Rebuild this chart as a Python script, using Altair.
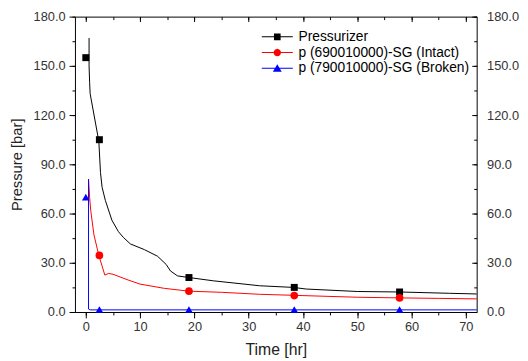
import math
import altair as alt
import pandas as pd

series = ["Pressurizer", "p (690010000)-SG (Intact)", "p (790010000)-SG (Broken)"]
colors = ["#000000", "#ff0000", "#0000ff"]

# continuous curves
prz_t = [0.6, 0.6, 0.7, 0.8, 2.4, 2.7, 3.0, 3.6, 4.8, 6.0, 6.9, 8.2, 10.8, 13.2, 14.8, 15.6, 16.9, 19.0, 23.5, 32.0, 38.2, 40.6, 50.0, 57.8, 67.0, 72.0]
prz_p = [167, 150, 140, 133, 104, 85, 76, 68, 56, 49, 45.5, 41.5, 38, 34, 29, 25, 22, 21, 19, 16, 15, 14, 12.5, 12.2, 11.4, 11]
sgi_t = [0.5, 0.7, 0.9, 1.5, 2.4, 3.0, 3.5, 4.2, 5.0, 7.8, 10.0, 14.5, 19.0, 25.0, 32.0, 40.0, 50.0, 57.8, 65.0, 72.0]
sgi_p = [81, 70, 62, 47, 34.5, 28, 22.5, 23.5, 23, 19.5, 17, 14.4, 12.7, 12, 10.8, 10, 9, 8.6, 8.3, 8]
sgb_t = [0.5, 0.5, 0.8, 72.0]
sgb_p = [81, 1.8, 1.3, 1.3]

# symbol markers
prz_mk_t = [0.0, 2.5, 19.0, 38.4, 57.8]
prz_mk_p = [155, 105, 21, 15, 12.2]
sgi_mk_t = [2.5, 19.0, 38.4, 57.8]
sgi_mk_p = [34.5, 12.7, 10, 8.6]
sgb_mk_t = [0.0, 2.5, 19.0, 38.4, 57.8]
sgb_mk_p = [70, 1.5, 1.5, 1.5, 1.5]

x_major = list(range(0, 71, 10))
x_minor = list(range(0, 71, 5))
y_major = list(range(0, 181, 30))
y_minor = list(range(0, 181, 15))

rows = []
for name, ts, ps in zip(series, [prz_t, sgi_t, sgb_t], [prz_p, sgi_p, sgb_p]):
    for i, (t, p) in enumerate(zip(ts, ps)):
        rows.append({"series": name, "t": t, "p": p, "order": i})
lines = pd.DataFrame(rows)

mrows = []
for name, ts, ps in zip(series, [prz_mk_t, sgi_mk_t, sgb_mk_t], [prz_mk_p, sgi_mk_p, sgb_mk_p]):
    for t, p in zip(ts, ps):
        mrows.append({"series": name, "t": t, "p": p})
marks = pd.DataFrame(mrows)

FONT = "Liberation Sans"
xs = alt.Scale(domain=[-2, 72], nice=False, zero=False)
ys = alt.Scale(domain=[0, 180], nice=False)
cs = alt.Scale(domain=series, range=colors)


def ax(**kw):
    base = dict(grid=False, domain=False, tickColor="black", tickWidth=1,
                labelFont=FONT, titleFont=FONT)
    base.update(kw)
    return alt.Axis(**base)


def noax(**kw):
    return ax(labels=False, **kw)


# legend symbols: thin line + marker (unit = sqrt(size)/2 px)
def poly_circle(r, n=16):
    pts = ["%s%.3f,%.3f" % ("M" if k == 0 else "L", r * math.cos(2 * math.pi * k / n), r * math.sin(2 * math.pi * k / n)) for k in range(n)]
    return "".join(pts) + "Z"

seg = "M-2.1,-0.07H-0.3V0.07H-2.1ZM0.3,-0.07H2.1V0.07H0.3Z"
sym_paths = [
    seg + "M-0.45,-0.45H0.45V0.45H-0.45Z",
    seg + poly_circle(0.5),
    seg + "M0,-0.55L0.6,0.45L-0.6,0.45Z",
]

leg = alt.Legend(title=None, orient="none", legendX=198, legendY=13,
                 symbolSize=225, symbolStrokeWidth=0, labelFont=FONT,
                 labelFontSize=14, labelColor="black", labelOffset=14,
                 labelLimit=400, rowPadding=1, padding=0)

base_l = alt.Chart(lines)
base_m = alt.Chart(marks)


def line_layer(name, xaxis, yaxis):
    return base_l.transform_filter(alt.datum.series == name).mark_line(strokeWidth=1).encode(
        x=alt.X("t:Q", scale=xs, axis=xaxis, title=None),
        y=alt.Y("p:Q", scale=ys, axis=yaxis, title=None),
        color=alt.Color("series:N", scale=cs, legend=leg),
        order="order:Q",
    )


def point_layer(name, shape, size, xaxis, yaxis):
    return base_m.transform_filter(alt.datum.series == name).mark_point(
        filled=True, shape=shape, size=size, opacity=1).encode(
        x=alt.X("t:Q", scale=xs, axis=xaxis, title=None),
        y=alt.Y("p:Q", scale=ys, axis=yaxis, title=None),
        color=alt.Color("series:N", scale=cs, legend=leg),
    )


l1 = base_l.transform_filter(alt.datum.series == series[0]).mark_line(strokeWidth=1).encode(
    x=alt.X("t:Q", scale=xs, title="Time [hr]",
            axis=ax(orient="bottom", values=x_major, tickSize=6, labelPadding=3,
                    labelFontSize=13, labelColor="#333333", titleFontSize=16,
                    titleFontWeight="normal", titleColor="#222222", titlePadding=8)),
    y=alt.Y("p:Q", scale=ys, title="Pressure [bar]",
            axis=ax(orient="left", values=y_major, format=".1f", tickSize=6, labelPadding=4,
                    labelFontSize=13, labelColor="#333333", titleFontSize=15,
                    titleFontWeight="normal", titleColor="#222222", titlePadding=9)),
    color=alt.Color("series:N", scale=cs, legend=leg),
    order="order:Q",
)

l2 = line_layer(series[1],
                noax(orient="bottom", values=x_minor, tickSize=3),
                noax(orient="left", values=y_minor, tickSize=3))
l3 = line_layer(series[2],
                noax(orient="bottom", values=x_major, tickSize=5, offset=-300),
                noax(orient="left", values=y_major, tickSize=5, offset=-408))
p1 = point_layer(series[0], "square", 50,
                 noax(orient="bottom", values=x_minor, tickSize=3, offset=-300),
                 noax(orient="left", values=y_minor, tickSize=3, offset=-408))
p2 = point_layer(series[1], "circle", 60,
                 None,
                 ax(orient="right", values=y_major, format=".1f", tickSize=0, labelPadding=10,
                    labelFontSize=13, labelColor="#333333"))
p3 = point_layer(series[2], "triangle-up", 60, None, None)

leg_layer = base_m.transform_filter("false").mark_point(filled=True, opacity=1, size=225).encode(
    x=alt.X("t:Q", scale=xs, axis=None),
    y=alt.Y("p:Q", scale=ys, axis=None),
    color=alt.Color("series:N", scale=cs, legend=leg),
    shape=alt.Shape("series:N", scale=alt.Scale(domain=series, range=sym_paths), legend=leg),
)

chart = alt.layer(l1, l2, l3, p1, p2, p3, leg_layer).resolve_axis(
    x="independent", y="independent"
).properties(
    width=408, height=300,
    autosize=alt.AutoSizeParams(type="none"),
    padding={"left": 68, "top": 6, "right": 44, "bottom": 47},
    background="white",
).configure_view(stroke="black", strokeWidth=1)

chart.save("out.html", embed_options={"renderer": "svg", "actions": False})
